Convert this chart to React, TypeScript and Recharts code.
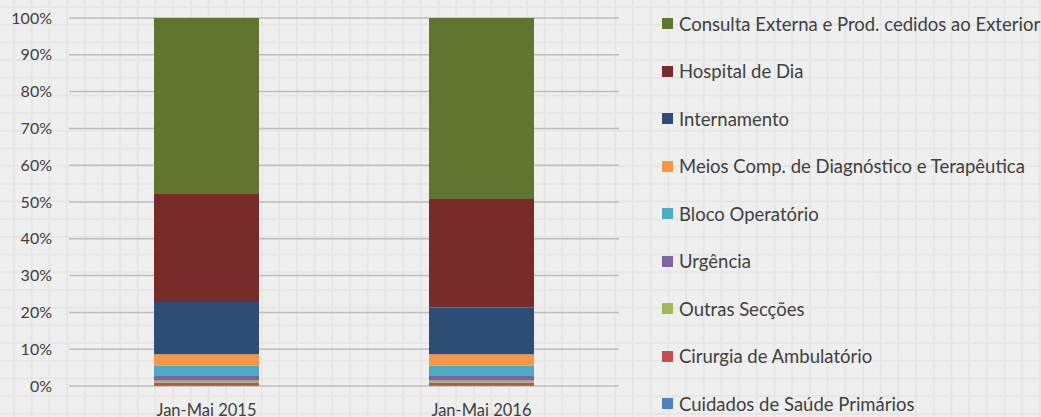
import React from "react";
import { BarChart, Bar, XAxis, YAxis, CartesianGrid } from "recharts";

const categories = ["Jan-Mai 2015", "Jan-Mai 2016"];
const seriesNames = [
  "Cuidados de Saúde Primários",
  "Cirurgia de Ambulatório",
  "Outras Secções",
  "Urgência",
  "Bloco Operatório",
  "Meios Comp. de Diagnóstico e Terapêutica",
  "Internamento",
  "Hospital de Dia",
  "Consulta Externa e Prod. cedidos ao Exterior",
];
const seriesColors = [
  "#4F81BD",
  "#C0504D",
  "#9BBB59",
  "#8064A2",
  "#4BACC6",
  "#F79646",
  "#2C4D75",
  "#772C2A",
  "#5F7530",
];
const values2015 = [0.3, 0.6, 0.6, 1.4, 2.6, 3.1, 14.2, 29.4, 47.8];
const values2016 = [0.3, 0.6, 0.6, 1.4, 2.6, 3.1, 12.7, 29.5, 49.2];
const yTicks = [0, 0.1, 0.2, 0.3, 0.4, 0.5, 0.6, 0.7, 0.8, 0.9, 1];

const seriesValues = [values2015, values2016];
const data = categories.map((c, ci) => {
  const row: Record<string, string | number> = { name: c };
  seriesNames.forEach((s, si) => {
    row["s" + si] = seriesValues[ci][si];
  });
  return row;
});

const FONT = "Lato, 'Open Sans', sans-serif";
const TEXT = "#404040";

export default function App() {
  return (
    <div
      style={{
        position: "fixed",
        left: 0,
        top: 0,
        width: 1041,
        height: 417,
        backgroundColor: "#efefef",
        backgroundImage:
          "linear-gradient(to right, #e6e6e6 1.5px, transparent 1.5px), linear-gradient(to bottom, #e6e6e6 1.5px, transparent 1.5px)",
        backgroundSize: "17.7px 17.7px",
        backgroundPosition: "13px 6px",
        fontFamily: FONT,
        overflow: "hidden",
      }}
    >
      <BarChart
        width={1041}
        height={417}
        data={data}
        stackOffset="expand"
        margin={{ top: 18, right: 422, bottom: 0, left: 0 }}
        barSize={105}
      >
        <CartesianGrid vertical={false} stroke="#bdbdbd" strokeWidth={1.5} />
        <XAxis
          dataKey="name"
          axisLine={false}
          tickLine={false}
          tickMargin={12}
          height={31}
          tick={{ fill: TEXT, fontSize: 16.5, fontFamily: FONT }}
        />
        <YAxis
          width={69}
          ticks={yTicks}
          domain={[0, 1]}
          interval={0}
          axisLine={false}
          tickLine={false}
          tickMargin={11}
          tickFormatter={(v: number) => Math.round(v * 100) + "%"}
          tick={{ fill: TEXT, fontSize: 16, fontFamily: FONT }}
        />
        {seriesNames.map((s, i) => (
          <Bar
            key={s}
            dataKey={"s" + i}
            name={s}
            stackId="a"
            fill={seriesColors[i]}
            isAnimationActive={false}
          />
        ))}
      </BarChart>
      <div style={{ position: "absolute", left: 662, top: 0 }}>
        {seriesNames
          .map((s, i) => ({ s, c: seriesColors[i] }))
          .reverse()
          .map(({ s, c }) => (
            <div
              key={s}
              style={{
                height: 47.5,
                display: "flex",
                alignItems: "center",
                whiteSpace: "nowrap",
                fontSize: 18.5,
                color: TEXT,
              }}
            >
              <span
                style={{
                  display: "inline-block",
                  width: 11,
                  height: 11,
                  background: c,
                  marginRight: 6,
                }}
              />
              <span>{s}</span>
            </div>
          ))}
      </div>
    </div>
  );
}
